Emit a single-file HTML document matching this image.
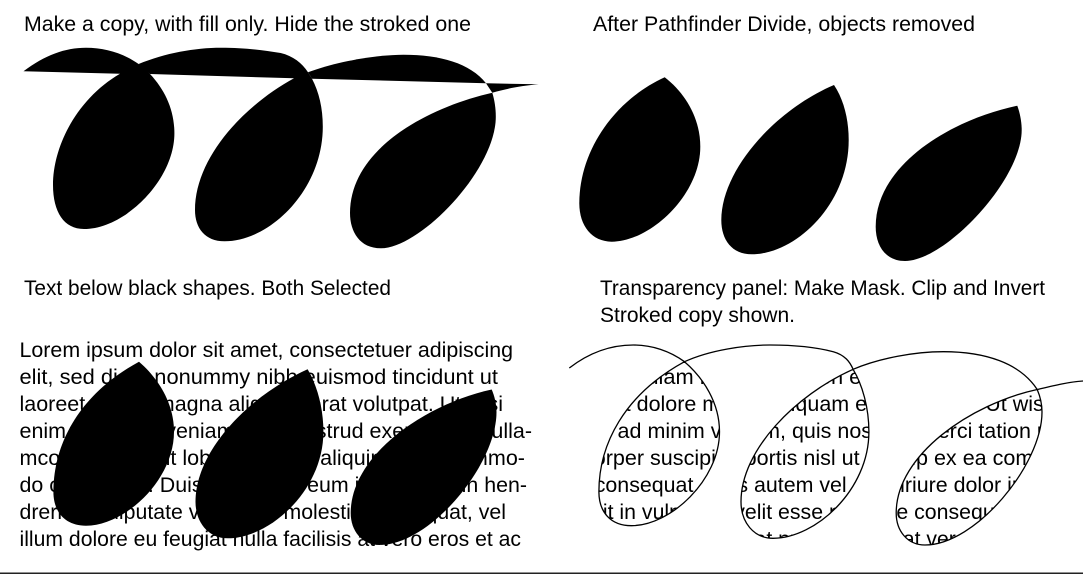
<!DOCTYPE html>
<html>
<head>
<meta charset="utf-8">
<style>
html,body{margin:0;padding:0;background:#fff;width:1083px;height:574px;overflow:hidden}
svg{display:block}
text{font-family:"Liberation Sans",sans-serif;font-size:21.5px;fill:#000}
</style>
</head>
<body>
<svg width="1083" height="574" viewBox="0 0 1083 574" xmlns="http://www.w3.org/2000/svg">
<defs>
<path id="la" d="M139,361.7 C158,378 174,403 174,431.7 C174,480 125,525.7 86,525.7 C65,525.7 53.4,512 53.4,491.7 C53.4,445 78,395 139,361.7Z"/>
<path id="lb" d="M307.6,369.3 C317,385 323.4,408 323.4,431.7 C323.4,490 270,538.3 227.6,538.3 C208,538.3 195.5,522 195.5,501.7 C195.5,450 250,395 307.6,369.3Z"/>
<path id="lc" d="M491.7,389.5 C494.5,396 496.5,404 496.5,412 C496.5,465 430,545 379.5,545 C362,545 350.7,531 350.7,513 C350.7,455 425,404 491.7,389.5Z"/>
<clipPath id="mask">
<use href="#la" transform="translate(545.5,0)"/>
<use href="#lb" transform="translate(545.5,0)"/>
<use href="#lc" transform="translate(545.5,0)"/>
</clipPath>
</defs>

<text x="24" y="31" textLength="447" lengthAdjust="spacingAndGlyphs">Make a copy, with fill only. Hide the stroked one</text>
<text x="593" y="31" textLength="382" lengthAdjust="spacingAndGlyphs">After Pathfinder Divide, objects removed</text>
<text x="24" y="295" textLength="367" lengthAdjust="spacingAndGlyphs">Text below black shapes. Both Selected</text>
<text x="600" y="295" textLength="445" lengthAdjust="spacingAndGlyphs">Transparency panel: Make Mask. Clip and Invert</text>
<text x="600" y="322" textLength="195" lengthAdjust="spacingAndGlyphs">Stroked copy shown.</text>

<!-- top-left shape -->
<path fill="#000" d="M23.5,71.3 C45,55 65,47.7 86,47.7 C105,47.7 123,53 138.6,64 C142,66 146,69 150,74 C165,90 174.4,110 174.4,133.3 C174.4,180 125,229 84,229 C64,229 53,212 53,185 C53,145 78,98 120,73.7 Z"/>
<path fill="#000" d="M138.6,64 C165,53 195,47.7 221,47.7 C245,47.7 262,50 280.7,53 C293,56 302,63 308,72.3 L312,78.7 C319,92 322.8,108 322.8,126.7 C322.8,190 270,241.3 224.6,241.3 C205,241.3 195,228 195,210 C195,160 240,108 294,78.3 L150,74 Z"/>
<path fill="#000" d="M308,72.3 C335,62 375,54.7 403.5,54.7 C440,54.7 470,63 486,83.3 L312,78.7 Z"/>
<path fill="#000" d="M486,83.3 L538.6,84.3 C520,86 505,89 492.3,92.7 Z"/>
<path fill="#000" d="M492.3,92.7 C494.5,100 495.8,108 495.8,116.7 C495.8,170 420,248.3 380.7,248.3 C360,248.3 350,232 350,213 C350,150 425,108 492.3,92.7 Z"/>

<!-- top-right leaves -->
<path fill="#000" d="M664.7,77.3 C685,93 700.3,118 700.3,146.7 C700.3,195 650,241.7 611.7,241.7 C592,241.7 579.3,226 579.3,203.3 C579.3,150 615,100 664.7,77.3Z"/>
<path fill="#000" d="M834,85 C844,100 848.7,120 848.7,140 C848.7,205 795,254.3 751.7,254.3 C732,254.3 721.3,240 721.3,220 C721.3,170 775,110 834,85Z"/>
<path fill="#000" d="M1017.3,105.7 C1020,113 1021.7,122 1021.7,130 C1021.7,180 945,261 905,261 C885,261 875.7,245 875.7,226.7 C875.7,165 950,120 1017.3,105.7Z"/>

<!-- bottom-left text and leaves -->
<g>
<text x="19.5" y="357" textLength="493.5" lengthAdjust="spacingAndGlyphs">Lorem ipsum dolor sit amet, consectetuer adipiscing</text>
<text x="19.5" y="384" textLength="478.5" lengthAdjust="spacingAndGlyphs">elit, sed diam nonummy nibh euismod tincidunt ut</text>
<text x="19.5" y="411" textLength="483.5" lengthAdjust="spacingAndGlyphs">laoreet dolore magna aliquam erat volutpat. Ut wisi</text>
<text x="19.5" y="438" textLength="512.5" lengthAdjust="spacingAndGlyphs">enim ad minim veniam, quis nostrud exerci tation ulla-</text>
<text x="19.5" y="465" textLength="505.5" lengthAdjust="spacingAndGlyphs">mcorper suscipit lobortis nisl ut aliquip ex ea commo-</text>
<text x="19.5" y="492" textLength="507.5" lengthAdjust="spacingAndGlyphs">do consequat. Duis autem vel eum iriure dolor in hen-</text>
<text x="19.5" y="519" textLength="486.5" lengthAdjust="spacingAndGlyphs">drerit in vulputate velit esse molestie consequat, vel</text>
<text x="19.5" y="546" textLength="501.5" lengthAdjust="spacingAndGlyphs">illum dolore eu feugiat nulla facilisis at vero eros et ac</text>
</g>
<use href="#la" fill="#000"/>
<use href="#lb" fill="#000"/>
<use href="#lc" fill="#000"/>

<!-- bottom-right masked text -->
<g clip-path="url(#mask)">
<g transform="translate(545.5,0)">
<text x="19.5" y="357" textLength="493.5" lengthAdjust="spacingAndGlyphs">Lorem ipsum dolor sit amet, consectetuer adipiscing</text>
<text x="19.5" y="384" textLength="478.5" lengthAdjust="spacingAndGlyphs">elit, sed diam nonummy nibh euismod tincidunt ut</text>
<text x="19.5" y="411" textLength="483.5" lengthAdjust="spacingAndGlyphs">laoreet dolore magna aliquam erat volutpat. Ut wisi</text>
<text x="19.5" y="438" textLength="512.5" lengthAdjust="spacingAndGlyphs">enim ad minim veniam, quis nostrud exerci tation ulla-</text>
<text x="19.5" y="465" textLength="505.5" lengthAdjust="spacingAndGlyphs">mcorper suscipit lobortis nisl ut aliquip ex ea commo-</text>
<text x="19.5" y="492" textLength="507.5" lengthAdjust="spacingAndGlyphs">do consequat. Duis autem vel eum iriure dolor in hen-</text>
<text x="19.5" y="519" textLength="486.5" lengthAdjust="spacingAndGlyphs">drerit in vulputate velit esse molestie consequat, vel</text>
<text x="19.5" y="546" textLength="501.5" lengthAdjust="spacingAndGlyphs">illum dolore eu feugiat nulla facilisis at vero eros et ac</text>
</g>
</g>

<!-- bottom-right stroke -->
<path fill="none" stroke="#000" stroke-width="1.3" d="M569.3,368 C590,352 612,345 633.3,345 C652,345 670,351 684.5,361.7 C703.5,378 719.5,403 719.5,431.7 C719.5,480 670.5,525.7 631.5,525.7 C610.5,525.7 598.9,512 598.9,491.7 C598.9,445 623.5,395 684.5,361.7 C710,350 745,345 770,345 C795,345 815,347 833.3,351.7 C845,355 850,362 853.1,369.3 C862.5,385 868.9,408 868.9,431.7 C868.9,490 815.5,538.3 773.1,538.3 C753.5,538.3 741,522 741,501.7 C741,450 795.5,395 853.1,369.3 C880,358 915,351.7 943.3,351.7 C985,351.7 1020,363 1037.2,389.5 C1040,396 1042,404 1042,412 C1042,465 975.5,545 925,545 C907.5,545 896.2,531 896.2,513 C896.2,455 970.5,404 1037.2,389.5 C1052,386 1068,382 1083,381"/>

<rect x="0" y="572.5" width="1083" height="1.5" fill="#222"/>
</svg>
</body>
</html>
